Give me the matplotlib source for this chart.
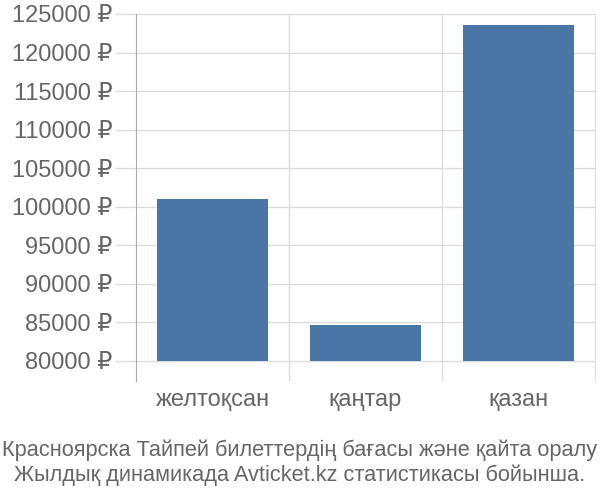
import matplotlib
matplotlib.use("Agg")
import matplotlib.pyplot as plt
import numpy as np

plt.rcParams["font.family"] = ["Liberation Sans", "DejaVu Sans"]

months = ["желтоқсан", "қаңтар", "қазан"]
prices = [101000, 84700, 123600]
yticks = list(range(80000, 125001, 5000))
title = "Красноярска Тайпей билеттердің бағасы және қайта оралу\nЖылдық динамикада Avticket.kz статистикасы бойынша."

text_color = "#666666"
grid_color = "#dddddd"
bar_color = "#4a76a5"

fig = plt.figure(figsize=(6, 5), dpi=100)
ax = fig.add_axes([136 / 600, 1 - 381 / 500, 459 / 600, 367 / 500])

base = 80000
x = np.arange(len(months))
ax.bar(x, [p - base for p in prices], bottom=base, width=0.72, color=bar_color, zorder=3)

ax.set_xlim(-0.5, len(months) - 0.5)
ax.set_ylim(77400, 125000)

ax.set_yticks(yticks)
ax.set_yticklabels([f"{v} ₽" for v in yticks], color=text_color, fontsize=17)
ax.tick_params(axis="y", length=15, color=grid_color, width=1, pad=2)
for v in yticks:
    ax.axhline(v, color=grid_color, lw=1, zorder=1)

ax.set_xticks(x)
ax.set_xticklabels(months, color=text_color, fontsize=17)
ax.tick_params(axis="x", length=0, pad=6)
for b in np.arange(0.5, len(months) - 0.5, 1):
    ax.axvline(b, color=grid_color, lw=1, zorder=1)

for s in ["top", "bottom"]:
    ax.spines[s].set_visible(False)
ax.spines["left"].set_color("#aaaaaa")
ax.spines["right"].set_color(grid_color)

fig.text(0.5, 0.028, title, ha="center", va="bottom", color=text_color, fontsize=15.7, linespacing=1.2)

fig.savefig("out.png", dpi=100)
